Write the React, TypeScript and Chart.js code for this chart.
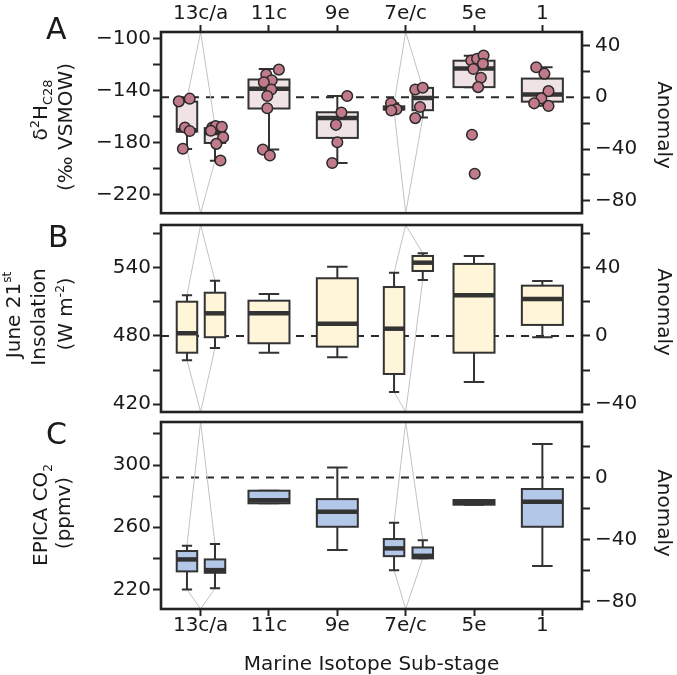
import React, { useEffect, useRef } from 'react';
import { Chart, registerables } from 'chart.js';

Chart.register(...registerables);

const FONT = "'DejaVu Sans', 'Liberation Sans', sans-serif";

// ---------- data ----------
const categories = ['13c/a', '11c', '9e', '7e/c', '5e', '1'];
const boxNames = ['13c', '13a', '11c', '9e', '7e', '7c', '5e', '1'];
const boxX = [-0.2, 0.21, 1, 2, 2.83, 3.25, 4, 5];
const boxWidth = [0.3, 0.3, 0.6, 0.6, 0.3, 0.3, 0.6, 0.6];
// [left sub-box, right sub-box, category index]
const splitGroups = [[0, 1, 0], [4, 5, 3]];

// Panel A: d2H C28 (permil VSMOW)
const d2hMin = [-185, -194, -185.4, -195.8, -155, -160.6, -137.2, -151.5];
const d2hQ1 = [-171.5, -180.3, -153.7, -176.4, -154.5, -155, -137.2, -148.4];
const d2hMedian = [-170.5, -172.6, -138.4, -161.1, -153.5, -145.6, -122.9, -142.8];
const d2hQ3 = [-148.4, -168.8, -131.3, -156.6, -152, -137.8, -116.8, -130.6];
const d2hMax = [-146, -167.3, -123.2, -144.1, -149.7, -137.8, -113, -121.9];
const d2hPointX = [
  -0.32, -0.16, -0.23, -0.16, -0.26,
  0.17, 0.22, 0.31, 0.15, 0.33, 0.23, 0.29,
  1.145, 0.96, 1.04, 0.925, 1.034, 0.975, 0.975, 0.91, 1.013,
  2.145, 2.06, 1.98, 2.0, 1.925,
  2.785, 2.865, 2.79,
  3.14, 3.25, 3.21, 3.14,
  3.96, 4.045, 4.14, 4.13, 3.99, 4.1, 4.06, 3.97, 4.01,
  4.91, 5.03, 5.09, 4.985, 4.88, 5.09,
];
const d2hPointY = [
  -148.2, -146.1, -168.3, -171.1, -184.8,
  -168.3, -167.3, -167.8, -170.9, -175.9, -181.0, -193.8,
  -123.7, -127.5, -131.9, -133.4, -139, -144.1, -153.5, -185.4, -190,
  -144.1, -156.8, -166.3, -179.7, -195.8,
  -149.7, -154.3, -155.2,
  -139, -137.7, -152.5, -161.1,
  -116.6, -115.3, -112.8, -119.1, -123.2, -130.0, -137.2, -173.9, -204.0,
  -121.9, -126.8, -140.3, -145.9, -149.7, -151.7,
];
const d2hReference = -145;

// Panel B: June 21st insolation (W m-2)
const insMin = [458.7, 469.5, 465.3, 461.3, 430.8, 529.2, 439.6, 478.9];
const insQ1 = [465.3, 478.9, 473.6, 470.6, 446.6, 537.1, 465.3, 489.7];
const insMedian = [482.4, 499.9, 499.9, 490.8, 486.4, 544.4, 515.8, 512.5];
const insQ3 = [510.1, 518.0, 511.0, 530.7, 523.0, 550.3, 543.3, 524.2];
const insMax = [515.8, 528.6, 516.9, 540.9, 535.6, 552.7, 550.3, 528.3];
const insReference = 480;

// Panel C: EPICA CO2 (ppmv)
const co2Min = [220.0, 220.7, 275.4, 245.3, 232.4, 240.0, 274.5, 235.0];
const co2Q1 = [231.6, 230.7, 275.4, 260.3, 241.4, 240.0, 274.5, 260.3];
const co2Median = [239.3, 232.4, 277.3, 270.0, 246.4, 241.6, 276.0, 276.4];
const co2Q3 = [244.7, 239.3, 283.5, 278.1, 252.4, 247.0, 277.5, 284.6];
const co2Max = [248.1, 249.2, 283.5, 298.5, 262.9, 251.7, 277.5, 313.5];
const co2Reference = 292;

// tick values / labels
const d2hTicks = [-220, -200, -180, -160, -140, -120, -100];
const d2hLabels = [-220, -180, -140, -100];
const d2hAnomTicks = [-80, -60, -40, -20, 0, 20, 40];
const d2hAnomLabels = [-80, -40, 0, 40];
const insTicks = [420, 450, 480, 510, 540, 570];
const insLabels = [420, 480, 540];
const insAnomTicks = [-40, -20, 0, 20, 40, 60];
const insAnomLabels = [-40, 0, 40];
const co2Ticks = [220, 240, 260, 280, 300, 320];
const co2Labels = [220, 260, 300];
const co2AnomTicks = [-80, -60, -40, -20, 0, 20];
const co2AnomLabels = [-80, -40, 0];

// ---------- panel setup ----------
const fmt = (v: number) => (v < 0 ? '\u2212' + Math.abs(v) : String(v));

type Run = { t: string; s: number; dy?: number };

const panels = [
  {
    letter: 'A', top: 0, height: 220, padTop: 0, padBottom: 5, xPos: 'top', xHeight: 32, xPad: -1,
    yMin: -234.5, yMax: -94.65, ref: d2hReference, anomFactor: 1,
    ticks: d2hTicks, labels: d2hLabels, aTicks: d2hAnomTicks, aLabels: d2hAnomLabels,
    min: d2hMin, q1: d2hQ1, med: d2hMedian, q3: d2hQ3, max: d2hMax,
    fill: '#EFE3E6', points: true,
    letterPos: [46, 39],
    titles: [
      { x: 40, y: 110, runs: [{ t: '\u03B4', s: 20 }, { t: '2', s: 13, dy: -8 }, { t: 'H', s: 20 }, { t: 'C28', s: 13, dy: 5 }] },
      { x: 65, y: 127, runs: [{ t: '(\u2030 VSMOW)', s: 20 }] },
    ],
    anomY: 125,
  },
  {
    letter: 'B', top: 220, height: 197, padTop: 5, padBottom: 5, xPos: 'none', xHeight: 0, xPad: 0,
    yMin: 413.2, yMax: 577.5, ref: insReference, anomFactor: 2 / 3,
    ticks: insTicks, labels: insLabels, aTicks: insAnomTicks, aLabels: insAnomLabels,
    min: insMin, q1: insQ1, med: insMedian, q3: insQ3, max: insMax,
    fill: '#FFF5D9', points: false,
    letterPos: [48, 247],
    titles: [
      { x: 13, y: 315, runs: [{ t: 'June 21', s: 20 }, { t: 'st', s: 12, dy: -9 }] },
      { x: 38, y: 317, runs: [{ t: 'Insolation', s: 20 }] },
      { x: 65, y: 314, runs: [{ t: '(W m', s: 20 }, { t: '-2', s: 12, dy: -8 }, { t: ')', s: 20 }] },
    ],
    anomY: 312,
  },
  {
    letter: 'C', top: 417, height: 258, padTop: 5, padBottom: 0, xPos: 'bottom', xHeight: 66, xPad: -2,
    yMin: 207.4, yMax: 327.7, ref: co2Reference, anomFactor: 1,
    ticks: co2Ticks, labels: co2Labels, aTicks: co2AnomTicks, aLabels: co2AnomLabels,
    min: co2Min, q1: co2Q1, med: co2Median, q3: co2Q3, max: co2Max,
    fill: '#B3C7E8', points: false,
    letterPos: [46, 444],
    titles: [
      { x: 40, y: 515, runs: [{ t: 'EPICA CO', s: 20 }, { t: '2', s: 12, dy: 5 }] },
      { x: 63, y: 513, runs: [{ t: '(ppmv)', s: 20 }] },
    ],
    anomY: 513,
  },
];

function drawRuns(ctx: CanvasRenderingContext2D, runs: Run[], cx: number, cy: number, angle: number) {
  ctx.save();
  ctx.translate(cx, cy);
  ctx.rotate(angle);
  let total = 0;
  const widths = runs.map((r) => {
    ctx.font = `${r.s}px ${FONT}`;
    const w = ctx.measureText(r.t).width;
    total += w;
    return w;
  });
  let xx = -total / 2;
  const base = 0.729 * 20 / 2;
  ctx.fillStyle = '#1a1a1a';
  ctx.textBaseline = 'alphabetic';
  ctx.textAlign = 'left';
  runs.forEach((r, i) => {
    ctx.font = `${r.s}px ${FONT}`;
    ctx.fillText(r.t, xx, base + (r.dy || 0));
    xx += widths[i];
  });
  ctx.restore();
}

function makePlugin(p: any) {
  return {
    id: 'boxes' + p.letter,
    beforeDatasetsDraw(chart: any) {
      const { ctx, chartArea: ca } = chart;
      const x = chart.scales.x;
      const y = chart.scales.y;
      ctx.save();
      ctx.beginPath();
      ctx.rect(ca.left, ca.top, ca.right - ca.left, ca.bottom - ca.top);
      ctx.clip();
      // reference dashed line
      const ry = y.getPixelForValue(p.ref);
      ctx.setLineDash([8, 7]);
      ctx.lineWidth = 2;
      ctx.strokeStyle = '#2a2a2a';
      ctx.beginPath();
      ctx.moveTo(ca.left, ry);
      ctx.lineTo(ca.right, ry);
      ctx.stroke();
      ctx.setLineDash([]);
      // split connectors
      ctx.strokeStyle = '#c2c2c2';
      ctx.lineWidth = 1;
      splitGroups.forEach(([a, b, c]) => {
        const cx = x.getPixelForValue(c);
        [a, b].forEach((i) => {
          const bx = x.getPixelForValue(boxX[i]);
          ctx.beginPath();
          ctx.moveTo(cx, ca.top);
          ctx.lineTo(bx, y.getPixelForValue(p.max[i]));
          ctx.moveTo(bx, y.getPixelForValue(p.min[i]));
          ctx.lineTo(cx, ca.bottom);
          ctx.stroke();
        });
      });
      // boxes
      boxNames.forEach((_, i) => {
        const cx = x.getPixelForValue(boxX[i]);
        const half = (x.getPixelForValue(boxX[i] + boxWidth[i] / 2) - x.getPixelForValue(boxX[i] - boxWidth[i] / 2)) / 2;
        const yMin = y.getPixelForValue(p.min[i]);
        const yQ1 = y.getPixelForValue(p.q1[i]);
        const yMed = y.getPixelForValue(p.med[i]);
        const yQ3 = y.getPixelForValue(p.q3[i]);
        const yMax = y.getPixelForValue(p.max[i]);
        ctx.strokeStyle = '#333333';
        ctx.lineWidth = 2;
        ctx.lineCap = 'butt';
        ctx.beginPath();
        ctx.moveTo(cx, yQ3);
        ctx.lineTo(cx, yMax);
        ctx.moveTo(cx, yQ1);
        ctx.lineTo(cx, yMin);
        ctx.moveTo(cx - half / 2, yMax);
        ctx.lineTo(cx + half / 2, yMax);
        ctx.moveTo(cx - half / 2, yMin);
        ctx.lineTo(cx + half / 2, yMin);
        ctx.stroke();
        ctx.fillStyle = p.fill;
        ctx.fillRect(cx - half, yQ3, 2 * half, yQ1 - yQ3);
        ctx.strokeRect(cx - half, yQ3, 2 * half, yQ1 - yQ3);
        ctx.lineWidth = 4.5;
        ctx.beginPath();
        ctx.moveTo(cx - half, yMed);
        ctx.lineTo(cx + half, yMed);
        ctx.stroke();
      });
      ctx.restore();
    },
    afterDraw(chart: any) {
      const { ctx, chartArea: ca } = chart;
      ctx.save();
      ctx.strokeStyle = '#222222';
      ctx.lineWidth = 2.6;
      ctx.strokeRect(ca.left, ca.top, ca.right - ca.left, ca.bottom - ca.top);
      // panel letter
      ctx.fillStyle = '#1a1a1a';
      ctx.font = `30px ${FONT}`;
      ctx.textAlign = 'left';
      ctx.textBaseline = 'alphabetic';
      ctx.fillText(p.letter, p.letterPos[0], p.letterPos[1] - p.top);
      // y titles
      p.titles.forEach((tt: any) => drawRuns(ctx, tt.runs, tt.x, tt.y - p.top, -Math.PI / 2));
      drawRuns(ctx, [{ t: 'Anomaly', s: 20 }], 665, p.anomY - p.top, Math.PI / 2);
      if (p.xPos === 'bottom') {
        ctx.font = `20px ${FONT}`;
        ctx.textAlign = 'center';
        ctx.textBaseline = 'alphabetic';
        ctx.fillStyle = '#1a1a1a';
        ctx.fillText('Marine Isotope Sub-stage', (ca.left + ca.right) / 2, 670 - p.top);
      }
      ctx.restore();
    },
  };
}

function tickGrid() {
  return { drawOnChartArea: false, drawTicks: true, tickLength: 8, tickColor: '#222222', tickWidth: 2, color: '#222222' };
}

function zeroPad(s: any) {
  s.paddingTop = 0;
  s.paddingBottom = 0;
  s.paddingLeft = 0;
  s.paddingRight = 0;
}

function buildConfig(p: any) {
  const datasets: any[] = [];
  if (p.points) {
    datasets.push({
      label: 'samples',
      data: d2hPointX.map((v, i) => ({ x: v, y: d2hPointY[i] })),
      pointRadius: 5.3,
      pointBackgroundColor: '#C17A89',
      pointBorderColor: '#2a2a2a',
      pointBorderWidth: 1.5,
      showLine: false,
      xAxisID: 'x',
      yAxisID: 'y',
    });
  } else {
    datasets.push({ label: 'none', data: [], xAxisID: 'x', yAxisID: 'y' });
  }
  return {
    type: 'scatter',
    data: { datasets },
    plugins: [makePlugin(p)],
    options: {
      responsive: false,
      animation: false,
      devicePixelRatio: 1,
      layout: { padding: { top: p.padTop, bottom: p.padBottom, left: 0, right: 0 } },
      plugins: { legend: { display: false }, tooltip: { enabled: false } },
      scales: {
        x: {
          type: 'linear',
          display: p.xPos !== 'none',
          position: p.xPos === 'top' ? 'top' : 'bottom',
          min: -0.58,
          max: 5.58,
          grid: { ...tickGrid(), tickLength: 7 },
          border: { display: false },
          afterBuildTicks: (s: any) => { s.ticks = categories.map((_, i) => ({ value: i })); },
          afterFit: (s: any) => { s.height = p.xHeight; zeroPad(s); },
          ticks: {
            autoSkip: false, maxRotation: 0, minRotation: 0, padding: p.xPad,
            color: '#1a1a1a', font: { family: FONT, size: 20 },
            callback: (v: number) => categories[Math.round(v)] ?? '',
          },
        },
        y: {
          type: 'linear',
          position: 'left',
          min: p.yMin,
          max: p.yMax,
          grid: tickGrid(),
          border: { display: false },
          afterBuildTicks: (s: any) => { s.ticks = p.ticks.map((v: number) => ({ value: v })); },
          afterFit: (s: any) => { s.width = 161; zeroPad(s); },
          ticks: {
            autoSkip: false, padding: 2, color: '#1a1a1a', font: { family: FONT, size: 20 },
            callback: (v: number) => (p.labels.includes(v) ? fmt(v) : ''),
          },
        },
        y2: {
          type: 'linear',
          position: 'right',
          min: (p.yMin - p.ref) * p.anomFactor,
          max: (p.yMax - p.ref) * p.anomFactor,
          grid: tickGrid(),
          border: { display: false },
          afterBuildTicks: (s: any) => { s.ticks = p.aTicks.map((v: number) => ({ value: v })); },
          afterFit: (s: any) => { s.width = 95; zeroPad(s); },
          ticks: {
            autoSkip: false, padding: 5, color: '#1a1a1a', font: { family: FONT, size: 20 },
            callback: (v: number) => (p.aLabels.includes(v) ? fmt(v) : ''),
          },
        },
      },
    },
  };
}

export default function App() {
  const r0 = useRef<HTMLCanvasElement>(null);
  const r1 = useRef<HTMLCanvasElement>(null);
  const r2 = useRef<HTMLCanvasElement>(null);
  const refs = [r0, r1, r2];
  useEffect(() => {
    const charts = panels.map((p, i) => new Chart(refs[i].current as HTMLCanvasElement, buildConfig(p) as any));
    return () => charts.forEach((c) => c.destroy());
  }, []);
  return (
    <div style={{ position: 'fixed', left: 0, top: 0, width: 677, height: 675, background: '#ffffff' }}>
      {panels.map((p, i) => (
        <canvas
          key={p.letter}
          ref={refs[i]}
          width={677}
          height={p.height}
          style={{ position: 'absolute', left: 0, top: p.top, width: 677, height: p.height }}
        />
      ))}
    </div>
  );
}
